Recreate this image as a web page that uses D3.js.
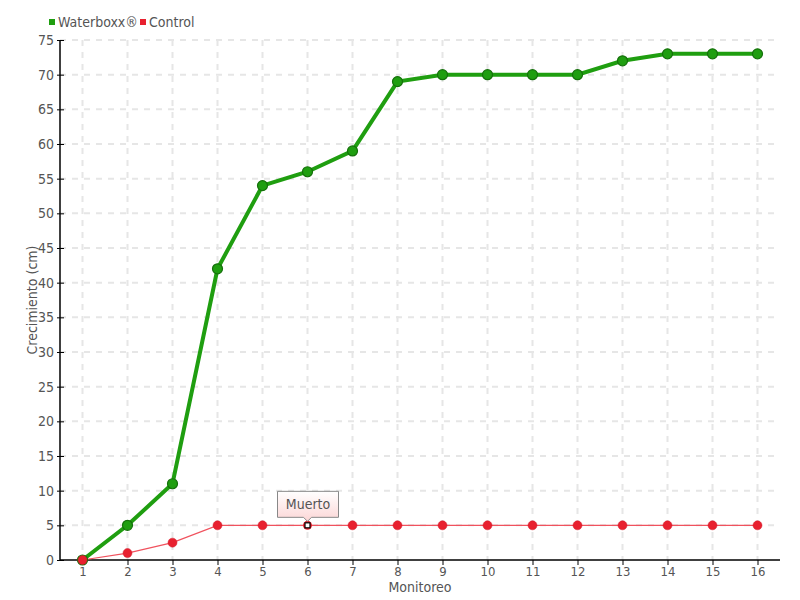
<!DOCTYPE html>
<html><head><meta charset="utf-8">
<script src="https://cdn.jsdelivr.net/npm/d3@7"></script>
<style>
body{margin:0;background:#fff;}
text{font-family:"DejaVu Sans Condensed","DejaVu Sans",sans-serif;font-stretch:condensed;fill:#555;}
</style></head><body>
<svg id="c" width="800" height="600"></svg>
<script>
const categories=["1","2","3","4","5","6","7","8","9","10","11","12","13","14","15","16"];
const waterboxx=[0,5,11,42,54,56,59,69,70,70,70,70,72,73,73,73];
const control=[0,1,2.5,5,5,5,5,5,5,5,5,5,5,5,5,5];
const yTicks=d3.range(0,80,5);
const deadIndex=5;
const deadLabel="Muerto";

const FF="DejaVu Sans Condensed, DejaVu Sans, sans-serif";
const svg=d3.select("#c");
const L=60,R=780,T=40,B=560;
const x=d3.scalePoint().domain(categories).range([L,R]).padding(0.5);
const y=d3.scaleLinear().domain([0,75]).range([B,T]);

const defs=svg.append("defs");
const grad=defs.append("linearGradient").attr("id","tip").attr("x1",0).attr("y1",0).attr("x2",0).attr("y2",1);
grad.append("stop").attr("offset","0%").attr("stop-color","#fff");
grad.append("stop").attr("offset","100%").attr("stop-color","#fcd6d6");

// grid
svg.append("g").selectAll("line").data(yTicks.slice(1)).join("line")
 .attr("x1",L).attr("x2",R).attr("y1",d=>y(d)).attr("y2",d=>y(d))
 .attr("stroke","#e6e6e6").attr("stroke-width",2).attr("stroke-dasharray","6,6");
svg.append("g").selectAll("line").data(categories).join("line")
 .attr("x1",d=>x(d)).attr("x2",d=>x(d)).attr("y1",T).attr("y2",B)
 .attr("stroke","#e6e6e6").attr("stroke-width",2).attr("stroke-dasharray","6,6");

// axes
const ya=svg.append("g").attr("transform",`translate(${L},0)`)
 .call(d3.axisLeft(y).tickValues(yTicks).tickSize(3).tickPadding(3));
ya.select(".domain").attr("stroke","#000").attr("stroke-width",1.5).attr("d",`M0,${T}V${B}`);
ya.selectAll(".tick line").attr("x1",-3).attr("x2",4).attr("stroke","#000");
ya.selectAll("text").attr("font-size",14).style("font-family",FF).style("font-stretch","condensed").attr("fill","#555");
const xa=svg.append("g").attr("transform",`translate(0,${B})`)
 .call(d3.axisBottom(x).tickSize(5).tickPadding(2));
xa.select(".domain").attr("stroke","#000").attr("stroke-width",1.5).attr("d",`M${L},0H${R}`);
xa.selectAll(".tick line").attr("stroke","#000");
xa.selectAll("text").attr("font-size",13).style("font-family",FF).style("font-stretch","condensed").attr("fill","#555");

svg.append("text").attr("x",(L+R)/2).attr("y",592).attr("text-anchor","middle").attr("font-size",14).text("Monitoreo");
svg.append("text").attr("transform",`translate(37,${(T+B)/2}) rotate(-90)`).attr("text-anchor","middle").attr("font-size",14).text("Crecimiento (cm)");

const line=d3.line().x((d,i)=>x(categories[i])).y(d=>y(d));
// control
svg.append("path").datum(control).attr("d",line).attr("fill","none").attr("stroke","#f0525e").attr("stroke-width",1.2);
// waterboxx
svg.append("path").datum(waterboxx).attr("d",line).attr("fill","none").attr("stroke","#1f9e10").attr("stroke-width",4);
svg.append("g").selectAll("circle").data(waterboxx).join("circle")
 .attr("cx",(d,i)=>x(categories[i])).attr("cy",d=>y(d)).attr("r",5)
 .attr("fill","#1f9e10").attr("stroke","#15700b").attr("stroke-width",1.2);
const cp=svg.append("g");
control.forEach((v,i)=>{
  if(i===deadIndex){
    cp.append("circle").attr("cx",x(categories[i])).attr("cy",y(v)).attr("r",4.5).attr("fill","#e8202f");
    cp.append("rect").attr("x",x(categories[i])-2.5).attr("y",y(v)-2.5).attr("width",5).attr("height",5).attr("fill","#fff").attr("stroke","#000").attr("stroke-width",1.2);
  } else {
    cp.append("circle").attr("cx",x(categories[i])).attr("cy",y(v)).attr("r",4.5).attr("fill","#e8202f").attr("stroke","#d01828").attr("stroke-width",0.5);
  }
});

// tooltip
const tx=x(categories[deadIndex]), ty=y(control[deadIndex]);
const tw=61, th=26, tl=tx-30, tt=ty-34;
svg.append("path").attr("d",`M${tl},${tt}H${tl+tw}V${tt+th}H${tx+4}L${tx},${tt+th+4}L${tx-4},${tt+th}H${tl}Z`)
 .attr("fill","url(#tip)").attr("stroke","#888").attr("stroke-width",1);
svg.append("text").attr("x",tl+tw/2).attr("y",tt+18).attr("text-anchor","middle").attr("font-size",14).text(deadLabel);

// legend
const lg=svg.append("g");
lg.append("rect").attr("x",49).attr("y",19).attr("width",6).attr("height",6).attr("fill","#1f9e10");
lg.append("text").attr("x",58).attr("y",27).attr("font-size",14).text("Waterboxx®");
lg.append("rect").attr("x",140).attr("y",19).attr("width",6).attr("height",6).attr("fill","#e8202f");
lg.append("text").attr("x",149).attr("y",27).attr("font-size",14).text("Control");
</script></body></html>
